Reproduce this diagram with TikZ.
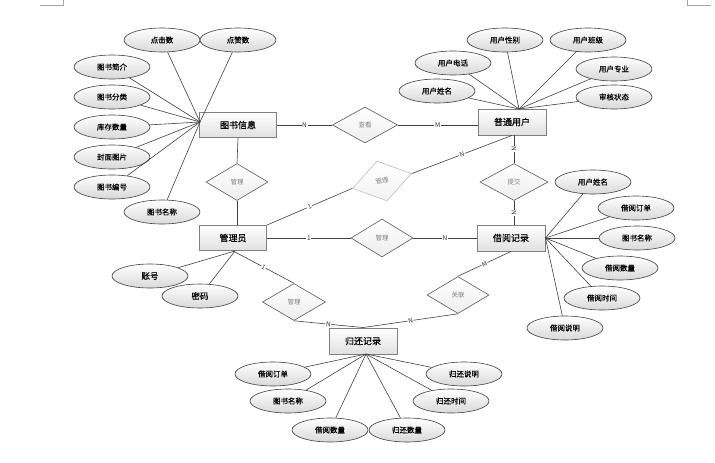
\documentclass[tikz,border=0pt]{standalone}
\usepackage{fontspec}
\setmainfont{Noto Sans CJK SC}
\newfontfamily\bcjk[FakeBold=0.5]{Noto Sans CJK SC}
\usetikzlibrary{shapes.geometric,shadows}
\begin{document}
\begin{tikzpicture}[x=1pt,y=-1pt,
 attr/.style={ellipse, draw=black!75, line width=0.6pt, top color=white, bottom color=black!15, minimum width=76pt, minimum height=24pt, inner sep=0pt, font=\bcjk\fontsize{7.5}{8}\selectfont},
 ent/.style={rectangle, draw=black!50, line width=0.9pt, top color=white, bottom color=black!12, minimum width=68pt, minimum height=26pt, inner sep=0pt, font=\bcjk\fontsize{9}{10}\selectfont, drop shadow={opacity=0.2, shadow xshift=0.8pt, shadow yshift=-0.8pt}},
 rel/.style={diamond, draw=black!65, line width=0.6pt, top color=white, bottom color=black!7, inner sep=0pt, minimum width=62pt, minimum height=37pt, text=black!50, font=\fontsize{6.5}{7}\selectfont},
 conn/.style={draw=black!75, line width=0.6pt},
 card/.style={fill=white, inner sep=0.6pt, font=\fontsize{6.5}{7}\selectfont, text=black!80, sloped, midway},
]
\useasboundingbox (0,0) rectangle (715,463);
\draw[black!35, line width=0.6pt] (40,5) -- (63,5) -- (63,0);
\draw[black!35, line width=0.6pt] (687,0) -- (687,5) -- (711,5);

% entities
\node[ent, minimum width=77pt, minimum height=25pt] (book) at (238,125) {图书信息};
\node[ent] (user) at (512,122) {普通用户};
\node[ent, minimum width=67pt, minimum height=25pt] (admin) at (233,238) {管理员};
\node[ent] (borrow) at (511,238) {借阅记录};
\node[ent] (ret) at (363,341) {归还记录};

% relationships
\node[rel] (m1) at (237,182) {管理};
\node[rel, minimum width=65pt, minimum height=36pt] (check) at (365,125) {查看};
\node[rel, minimum height=38pt] (m2) at (382,238) {管理};
\node[rel, minimum width=68pt] (sub) at (514,182) {提交};
\node[rel] (rel) at (458,295) {关联};
\node[rel, minimum width=63pt] (m3) at (294,302) {管理};
\node[rel, rotate=14, draw=black!25, bottom color=black!5, minimum width=61pt, minimum height=41pt] (m4) at (382,181) {管理};

% book attributes
\coordinate (hb) at (200,122);
\node[attr] (b1) at (162,40) {点击数};
\node[attr] (b2) at (238,40) {点赞数};
\node[attr] (b3) at (112,67) {图书简介};
\node[attr] (b4) at (112,97) {图书分类};
\node[attr] (b5) at (112,127) {库存数量};
\node[attr] (b6) at (112,157) {封面图片};
\node[attr] (b7) at (112,187) {图书编号};
\node[attr] (b8) at (162,212) {图书名称};
\foreach \n in {b1,b2,b3,b4,b5,b6,b7,b8} \draw[conn] (hb) -- (\n);

% user attributes
\coordinate (hu) at (519,109);
\node[attr] (u1) at (505,40) {用户性别};
\node[attr] (u2) at (588,40) {用户班级};
\node[attr] (u3) at (453,63) {用户电话};
\node[attr] (u4) at (614,69) {用户专业};
\node[attr] (u5) at (437,91) {用户姓名};
\node[attr] (u6) at (614,97) {审核状态};
\foreach \n in {u1,u2,u3,u4,u5,u6} \draw[conn] (hu) -- (\n);

% borrow attributes
\coordinate (hr) at (borrow.east);
\node[attr] (r1) at (593,182) {用户姓名};
\node[attr] (r2) at (636,208) {借阅订单};
\node[attr] (r3) at (637,238) {图书名称};
\node[attr] (r4) at (620,268) {借阅数量};
\node[attr] (r5) at (602,298) {借阅时间};
\node[attr] (r6) at (565,328) {借阅说明};
\foreach \n in {r1,r2,r3,r4,r5,r6} \draw[conn] (hr) -- (\n);

% admin attributes
\coordinate (ha) at (235,251);
\node[attr, font=\bcjk\fontsize{8.5}{9}\selectfont] (a1) at (150,276) {账号};
\node[attr, font=\bcjk\fontsize{8.5}{9}\selectfont] (a2) at (200,296) {密码};
\foreach \n in {a1,a2} \draw[conn] (ha) -- (\n);

% return attributes
\coordinate (ht) at (366,354);
\node[attr] (t1) at (273,374) {借阅订单};
\node[attr] (t2) at (288,401) {图书名称};
\node[attr] (t3) at (330,430) {借阅数量};
\node[attr] (t4) at (407,430) {归还数量};
\node[attr] (t5) at (451,401) {归还时间};
\node[attr] (t6) at (464,374) {归还说明};
\foreach \n in {t1,t2,t3,t4,t5,t6} \draw[conn] (ht) -- (\n);

% relationship connectors
\draw[conn] (book.south) -- (m1.north);
\draw[conn] (m1.south) -- (m1.south |- admin.north);
\draw[conn] (book.east) -- (check.west) node[card]{N};
\draw[conn] (check.east) -- (check.east -| user.west) node[card]{M};
\draw[conn] (admin.north east) -- (m4.west) node[card]{1};
\draw[conn] (m4.east) -- (user.south) node[card]{N};
\draw[conn] (sub.north |- user.south) -- (sub.north) node[card]{N};
\draw[conn] (sub.south) -- (sub.south |- borrow.north) node[card]{N};
\draw[conn] (admin.east) -- (m2.west) node[card]{1};
\draw[conn] (m2.east) -- (borrow.west) node[card]{N};
\draw[conn] (borrow.south) -- (rel.north) node[card]{M};
\draw[conn] (rel.south) -- (ret.north) node[card]{N};
\draw[conn] (admin.south) -- (m3.north) node[card]{1};
\draw[conn] (m3.south) -- (ret.north) node[card]{N};
\end{tikzpicture}
\end{document}
